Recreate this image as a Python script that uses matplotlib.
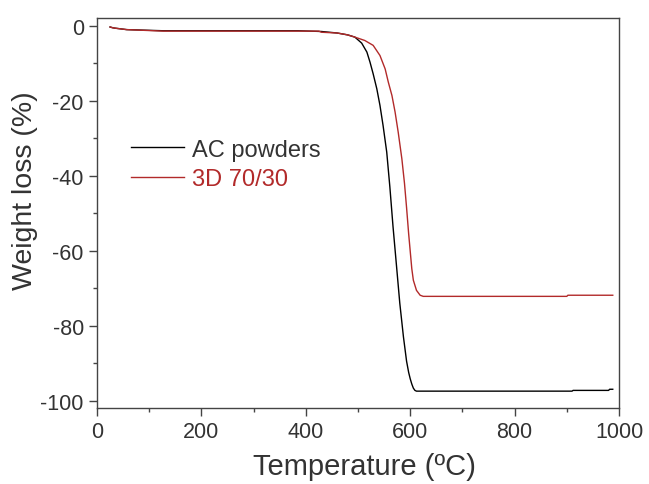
import numpy as np
import matplotlib
matplotlib.use('Agg')
import matplotlib.pyplot as plt
from matplotlib.ticker import MultipleLocator

# TGA curves
temp_ac = [25, 30, 34, 57, 127, 200, 300, 385, 430, 460, 480, 494, 507, 517, 523,
           529, 536, 542, 548, 555, 561, 567, 574, 580, 587, 593, 597, 600, 603, 606, 609, 612,
           700, 800, 910, 912, 980, 982, 988]
loss_ac = [-0.3, -0.5, -0.6, -1.0, -1.3, -1.3, -1.3, -1.3, -1.5, -1.9, -2.4, -3.0, -4.6, -7.0, -9.7,
           -12.8, -16.8, -21.2, -26.6, -33.7, -43.0, -53.5, -64.5, -74.0, -83.0, -89.5, -92.5, -94.2, -95.6, -96.7, -97.3, -97.5,
           -97.5, -97.5, -97.5, -97.3, -97.3, -97.0, -97.0]

temp_3d = [25, 30, 34, 57, 127, 300, 425, 430, 460, 480, 494, 513, 529, 542, 552,
           558, 565, 571, 577, 584, 589, 593, 597, 603, 606, 612, 619, 625,
           700, 800, 900, 902, 988]
loss_3d = [-0.3, -0.5, -0.6, -1.0, -1.4, -1.4, -1.4, -1.7, -1.9, -2.4, -3.0, -3.9, -5.2, -7.9, -11.5,
           -15.0, -18.6, -23.0, -28.4, -35.5, -42.0, -48.5, -55.5, -64.8, -67.9, -70.6, -71.9, -72.2,
           -72.2, -72.2, -72.2, -71.9, -71.9]

labels = ['AC powders', '3D 70/30']
colors = ['#000000', '#b22a2a']
text_color = '#333333'

plt.rcParams['font.family'] = ['Liberation Sans', 'DejaVu Sans']
plt.rcParams['axes.unicode_minus'] = False

fig = plt.figure(figsize=(6.49, 4.85), dpi=100)
ax = fig.add_axes([0.1495, 0.1567, 0.8043, 0.8041])

ax.plot(temp_ac, loss_ac, color=colors[0], lw=1.0, label=labels[0])
ax.plot(temp_3d, loss_3d, color=colors[1], lw=1.0, label=labels[1])

ax.set_xlim(0, 1000)
ax.set_ylim(-102, 2.1)
ax.xaxis.set_major_locator(MultipleLocator(200))
ax.xaxis.set_minor_locator(MultipleLocator(100))
ax.yaxis.set_major_locator(MultipleLocator(20))
ax.yaxis.set_minor_locator(MultipleLocator(10))
ax.tick_params(which='major', direction='out', length=6, width=1, color='#444444',
               labelsize=15.5, labelcolor=text_color)
ax.tick_params(which='minor', direction='out', length=3, width=1, color='#444444')
for s in ax.spines.values():
    s.set_color('#444444')
    s.set_linewidth(1.0)

ax.set_xlabel('Temperature (ºC)', fontsize=21, color=text_color)
ax.set_ylabel('Weight loss (%)', fontsize=20.5, color=text_color)
ax.xaxis.set_label_coords(0.513, -0.112)
ax.yaxis.set_label_coords(-0.113, 0.56)

leg = ax.legend(loc='upper left', bbox_to_anchor=(0.025, 0.745), frameon=False,
                fontsize=17, handlelength=2.25, handletextpad=0.3, labelspacing=0.3)
leg.get_texts()[0].set_color(text_color)
leg.get_texts()[1].set_color(colors[1])

fig.savefig('out.png', dpi=100, facecolor='white')
